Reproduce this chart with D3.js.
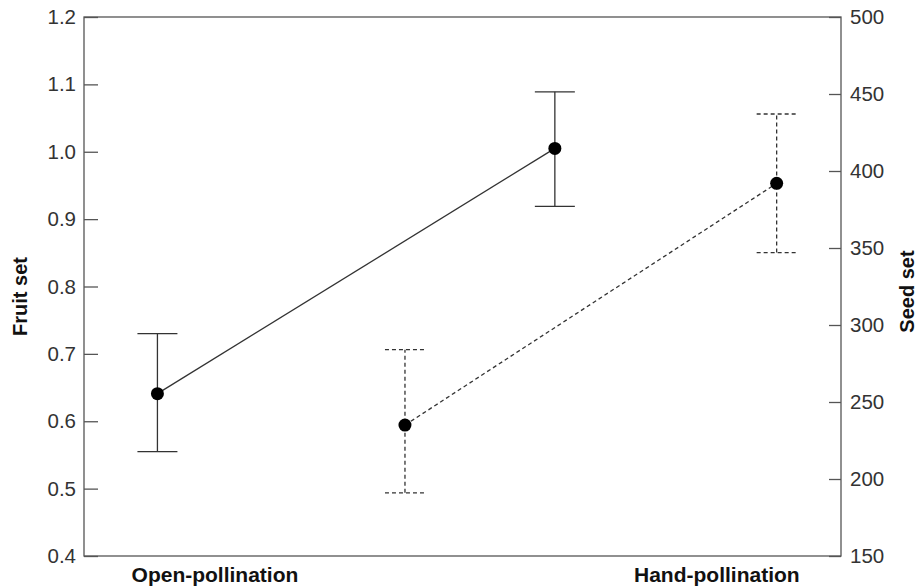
<!DOCTYPE html>
<html>
<head>
<meta charset="utf-8">
<script src="https://cdn.jsdelivr.net/npm/d3@7"></script>
<style>
  body { margin: 0; background: #fff; }
  svg { font-family: "Liberation Sans", Arial, sans-serif; }
</style>
</head>
<body>
<svg id="chart" width="919" height="588"></svg>
<script>
// categories and where they sit along the x axis (0..1 of plot width)
const categories = ["Open-pollination", "Hand-pollination"];
const labelPos = [0.173, 0.836];

// fruit set (left axis, solid)
const fruitPos = [0.097, 0.622];
const fruitMean = [0.641, 1.005];
const fruitUpper = [0.730, 1.089];
const fruitLower = [0.555, 0.919];

// seed set (right axis, dashed)
const seedPos = [0.424, 0.915];
const seedMean = [235, 392];
const seedUpper = [284, 437];
const seedLower = [191, 347];

const fruitTicks = [0.4, 0.5, 0.6, 0.7, 0.8, 0.9, 1.0, 1.1, 1.2];
const seedTicks = [150, 200, 250, 300, 350, 400, 450, 500];

const margin = {top: 17, right: 78, bottom: 32, left: 84};
const width = 919 - margin.left - margin.right;
const height = 588 - margin.top - margin.bottom;

const svg = d3.select("#chart");
const g = svg.append("g").attr("transform", `translate(${margin.left},${margin.top})`);

const x = d3.scaleLinear().domain([0, 1]).range([0, width]);
const yFruit = d3.scaleLinear().domain([0.4, 1.2]).range([height, 0]);
const ySeed = d3.scaleLinear().domain([150, 500]).range([height, 0]);

const axisColor = "#555";
const textColor = "#333";

// frame
g.append("rect")
    .attr("width", width)
    .attr("height", height)
    .attr("fill", "none")
    .attr("stroke", axisColor)
    .attr("stroke-width", 1.3);

// left axis, ticks point inward
const left = g.append("g")
    .call(d3.axisLeft(yFruit).tickValues(fruitTicks).tickFormat(d3.format(".1f"))
        .tickSizeInner(-14).tickSizeOuter(0).tickPadding(8));
// right axis
const right = g.append("g")
    .attr("transform", `translate(${width},0)`)
    .call(d3.axisRight(ySeed).tickValues(seedTicks)
        .tickSizeInner(-12).tickSizeOuter(0).tickPadding(9));

[left, right].forEach(ax => {
    ax.select(".domain").remove();
    ax.selectAll("line").attr("stroke", axisColor).attr("stroke-width", 1.3);
    ax.selectAll("text")
        .attr("fill", textColor)
        .attr("font-size", "20.5px")
        .attr("font-family", "Liberation Sans, Arial, sans-serif");
});

// axis titles
g.append("text")
    .attr("transform", `translate(${20 - margin.left},${height / 2 + 10}) rotate(-90)`)
    .attr("text-anchor", "middle")
    .attr("dy", "0.35em")
    .attr("font-size", "20px")
    .attr("font-weight", "bold")
    .attr("fill", "#111")
    .text("Fruit set");

g.append("text")
    .attr("transform", `translate(${width + 66},${height / 2 + 5}) rotate(-90)`)
    .attr("text-anchor", "middle")
    .attr("dy", "0.35em")
    .attr("font-size", "20px")
    .attr("font-weight", "bold")
    .attr("fill", "#111")
    .text("Seed set");

// category labels
g.selectAll("text.cat")
    .data(categories)
    .join("text")
    .attr("class", "cat")
    .attr("x", (d, i) => x(labelPos[i]))
    .attr("y", height + 26)
    .attr("text-anchor", "middle")
    .attr("font-size", "21px")
    .attr("font-weight", "bold")
    .attr("fill", "#111")
    .text(d => d);

function drawSeries(pos, mean, lo, hi, yScale, dash) {
    const pts = pos.map((p, i) => ({x: x(p), y: yScale(mean[i]), lo: yScale(lo[i]), hi: yScale(hi[i])}));
    const s = g.append("g")
        .attr("stroke", "#333")
        .attr("stroke-width", 1.3)
        .attr("fill", "none")
        .attr("stroke-dasharray", dash);

    s.append("path")
        .attr("d", d3.line().x(d => d.x).y(d => d.y)(pts));

    // error bars
    s.selectAll("line.v")
        .data(pts)
        .join("line")
        .attr("x1", d => d.x).attr("x2", d => d.x)
        .attr("y1", d => d.lo).attr("y2", d => d.hi);
    s.selectAll("line.cap")
        .data(pts.flatMap(d => [[d.x, d.lo], [d.x, d.hi]]))
        .join("line")
        .attr("x1", d => d[0] - 20).attr("x2", d => d[0] + 20)
        .attr("y1", d => d[1]).attr("y2", d => d[1]);

    g.append("g").selectAll("circle")
        .data(pts)
        .join("circle")
        .attr("cx", d => d.x)
        .attr("cy", d => d.y)
        .attr("r", 6.5)
        .attr("fill", "#000");
}

drawSeries(fruitPos, fruitMean, fruitLower, fruitUpper, yFruit, null);
drawSeries(seedPos, seedMean, seedLower, seedUpper, ySeed, "4,3");
</script>
</body>
</html>
